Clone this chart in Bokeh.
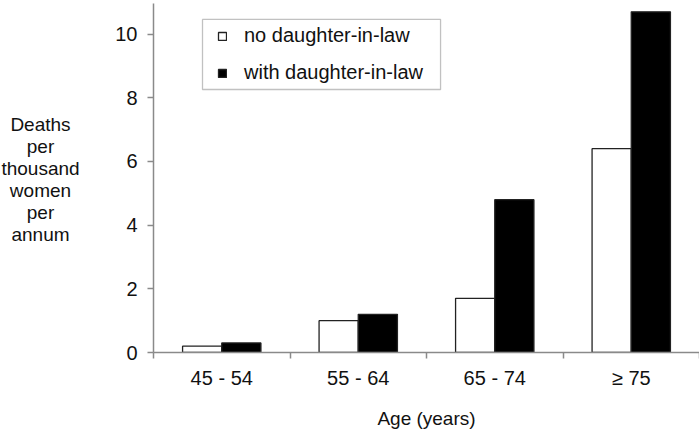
from bokeh.plotting import figure
from bokeh.layouts import row
from bokeh.models import (Range1d, FixedTicker, CustomJSTickFormatter,
                          Legend, LegendItem, BoxAnnotation, ColumnDataSource)
from bokeh.transform import dodge
from bokeh.embed import file_html
from bokeh.resources import INLINE

# ---- data ----
categories = ["45 - 54", "55 - 64", "65 - 74", "\u2265 75"]
no_daughter_in_law = [0.2, 1.0, 1.7, 6.4]
with_daughter_in_law = [0.3, 1.2, 4.8, 10.7]
y_ticks = [0, 2, 4, 6, 8, 10]
series_labels = ["no daughter-in-law", "with daughter-in-law"]
y_label = "Deaths\nper\nthousand\nwomen\nper\nannum"
x_label = "Age (years)"

FONT = "Liberation Sans"
AXIS_GRAY = "#8a8a8a"
TEXT = "#111111"

n = len(categories)
centers = [i + 0.5 for i in range(n)]          # category slot centres
boundaries = list(range(n + 1))                 # slot edges (tick marks)

src = ColumnDataSource(dict(pos=centers, no=no_daughter_in_law, wi=with_daughter_in_law))

TOTAL_H = 433
LABEL_W = 80

# ---- left panel holding the horizontal y-axis title ----
lp = figure(width=LABEL_W, height=TOTAL_H, x_range=Range1d(0, LABEL_W), y_range=Range1d(0, TOTAL_H),
            output_backend="svg", toolbar_location=None,
            min_border=0, min_border_left=0, min_border_right=0, min_border_top=0, min_border_bottom=0)
lp.axis.visible = False
lp.grid.visible = False
lp.outline_line_color = None
lp.background_fill_color = "white"
lp.border_fill_color = "white"
lp.text(x=[40], y=[TOTAL_H - 218], text=[y_label], text_align="center", text_baseline="middle",
        text_font={"value": FONT}, text_font_size="19px", text_color=TEXT, text_line_height=1.05)

# ---- main chart ----
p = figure(width=699 - LABEL_W, height=TOTAL_H,
           x_range=Range1d(0, n), y_range=Range1d(0, 10.96),
           output_backend="svg", toolbar_location=None,
           min_border_left=153 - LABEL_W, min_border_right=0, min_border_top=3, min_border_bottom=81)
p.outline_line_color = None
p.xgrid.visible = False
p.ygrid.visible = False
p.background_fill_color = "white"
p.border_fill_color = "white"

bw = 0.287
r1 = p.vbar(x=dodge("pos", -bw / 2), top="no", width=bw, source=src,
            fill_color="white", line_color="#222222", line_width=1.3)
r2 = p.vbar(x=dodge("pos", bw / 2), top="wi", width=bw, source=src,
            fill_color="black", line_color="#222222", line_width=1.3)

# y axis
ya = p.yaxis[0]
ya.ticker = FixedTicker(ticks=y_ticks)
ya.minor_tick_line_color = None
ya.axis_line_color = AXIS_GRAY
ya.axis_line_width = 1.5
ya.major_tick_line_color = AXIS_GRAY
ya.major_tick_line_width = 1.5
ya.major_tick_in = 0
ya.major_tick_out = 6
ya.major_label_standoff = 10
ya.major_label_text_font = FONT
ya.major_label_text_font_size = "20px"
ya.major_label_text_color = TEXT

# x axis: labels at slot centres, tick marks at slot edges
xa = p.xaxis[0]
xa.ticker = FixedTicker(ticks=centers, minor_ticks=boundaries)
xa.formatter = CustomJSTickFormatter(args=dict(labels=categories),
                                     code="return labels[Math.floor(tick)];")
xa.axis_line_color = AXIS_GRAY
xa.axis_line_width = 1.5
xa.major_tick_line_color = None
xa.major_tick_in = 0
xa.major_tick_out = 6
xa.minor_tick_line_color = AXIS_GRAY
xa.minor_tick_line_width = 1.5
xa.minor_tick_in = 0
xa.minor_tick_out = 6
xa.major_label_standoff = 8
xa.major_label_text_font = FONT
xa.major_label_text_font_size = "20px"
xa.major_label_text_color = TEXT
xa.axis_label = x_label
xa.axis_label_standoff = 16
xa.axis_label_text_font = FONT
xa.axis_label_text_font_size = "19px"
xa.axis_label_text_font_style = "normal"
xa.axis_label_text_color = TEXT

# legend frame
box = BoxAnnotation(left=0.359, right=2.103, top=10.46, bottom=8.26,
                    fill_color="white", fill_alpha=1.0,
                    line_color="#333333", line_width=1.3, level="annotation")
p.add_layout(box)

legend = Legend(items=[LegendItem(label=series_labels[0], renderers=[r1]),
                       LegendItem(label=series_labels[1], renderers=[r2])],
                location=(64, 268), border_line_color=None, background_fill_alpha=0,
                glyph_width=10, glyph_height=10, label_standoff=17, spacing=14,
                padding=0, margin=0, label_height=22,
                label_text_font=FONT, label_text_font_size="20px", label_text_color=TEXT)
p.add_layout(legend)

layout = row(lp, p, spacing=0)
open("out.html", "w").write(file_html(layout, INLINE))
